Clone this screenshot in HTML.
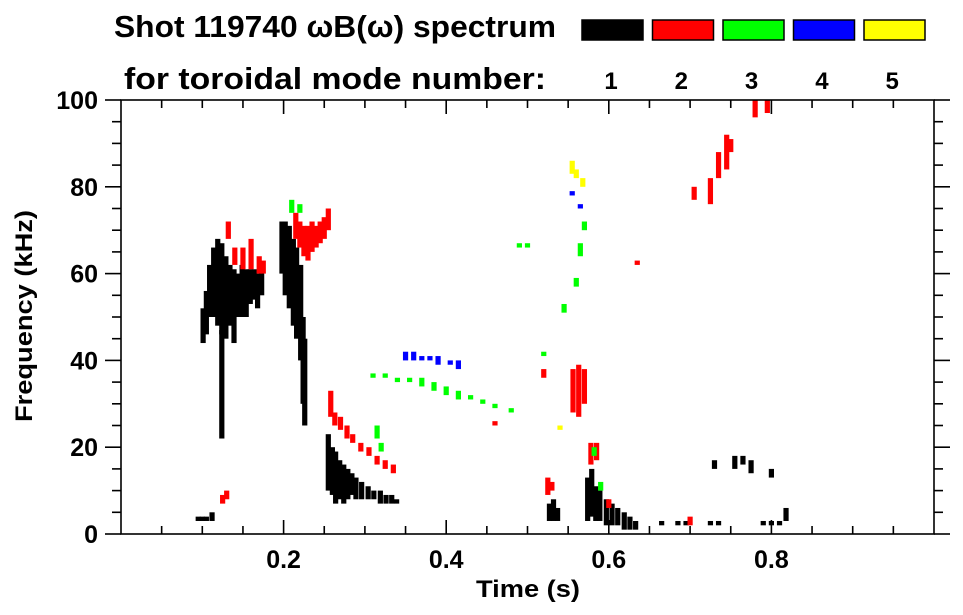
<!DOCTYPE html>
<html><head><meta charset="utf-8"><style>
body{margin:0;background:#fff}
svg{display:block;font-family:"Liberation Sans Narrow","Liberation Sans",sans-serif;font-weight:bold}
</style></head><body>
<svg id="chart" width="963" height="615" viewBox="0 0 963 615" xmlns="http://www.w3.org/2000/svg">
<g>
<text x="114" y="37" font-size="31" textLength="442" lengthAdjust="spacingAndGlyphs">Shot 119740 ωB(ω) spectrum</text>
<text x="124" y="89" font-size="31" textLength="422" lengthAdjust="spacingAndGlyphs">for toroidal mode number:</text>
</g>
<g id="legend"></g>
<g id="marks"></g>
<g id="axes" stroke="#000" stroke-width="1.6" fill="none"></g>
<g id="labels"></g>
<text x="528" y="597" font-size="24" text-anchor="middle" textLength="104" lengthAdjust="spacingAndGlyphs">Time (s)</text>
<text transform="translate(32,316) rotate(-90)" font-size="24" text-anchor="middle" textLength="212" lengthAdjust="spacingAndGlyphs">Frequency (kHz)</text>
</svg>
<script>
const modeNames=["1","2","3","4","5"];
const modeColors=["#000000","#ff0000","#00ff00","#0000ff","#ffff00"];
const xTicks=[0.2,0.4,0.6,0.8];
const yTicks=[0,20,40,60,80,100];
// streaks: [time s, fLow kHz, fHigh kHz]
const mode1=[[0.095,3,4],[0.1,3,4],[0.105,3,4],[0.112,3,5],[0.101,44,52],[0.105,46,56],[0.109,50,62],[0.114,50,66],[0.119,48,68],[0.124,46,67],[0.129,45,64],[0.134,48,62],[0.139,44,61],[0.144,50,60],[0.149,50,62],[0.154,50,61],[0.159,53,61],[0.164,54,61],[0.168,52,60],[0.173,55,61],[0.124,22,47],
[0.198,60,72],[0.202,55,72],[0.207,52,71],[0.212,48,68],[0.216,45,66],[0.221,40,62],[0.224,30,50],[0.226,25,45],
[0.255,10,23],[0.26,9,20],[0.264,7,19],[0.269,8,17],[0.274,7,16],[0.279,8,15],[0.284,9,14],[0.289,8,13],[0.296,8,12],[0.304,8,11],[0.311,8,10],[0.319,7,10],[0.326,7,9],[0.333,7,9],[0.339,7,8],
[0.527,3,7],[0.532,3,8],[0.537,3,6],[0.574,3,13],[0.579,4,15],[0.584,3,11],[0.589,3,10],[0.597,2,8],[0.604,2,7],[0.611,2,6],[0.619,1,5],[0.626,1,4],[0.633,1,3],
[0.665,2,3],[0.685,2,3],[0.695,2,3],[0.725,2,3],[0.735,2,3],[0.79,2,3],[0.8,2,3],[0.81,2,3],[0.818,3,6],
[0.73,15,17],[0.755,15,18],[0.765,16,18],[0.775,14,17],[0.8,13,15]];
const mode2=[[0.132,68,72],[0.14,62,66],[0.15,61,66],[0.16,61,68],[0.17,60,64],[0.175,60,63],
[0.215,68,74],[0.22,66,72],[0.225,64,71],[0.23,63,71],[0.235,65,72],[0.24,66,71],[0.245,67,72],[0.25,68,73],[0.255,70,75],
[0.258,27,33],[0.263,25,28],[0.27,24,27],[0.278,22,25],[0.285,21,23],[0.295,19,21],[0.305,18,20],[0.315,16,18],[0.325,15,17],[0.335,14,16],
[0.125,7,9],[0.13,8,10],[0.525,9,13],[0.53,10,12],[0.52,36,38],[0.556,28,38],[0.563,27,39],[0.57,30,38],[0.578,16,21],[0.585,17,21],[0.6,6,8],[0.7,2,4],
[0.705,77,80],[0.725,76,82],[0.735,82,88],[0.745,84,92],[0.75,88,91],[0.78,96,100],[0.795,97,100],[0.635,62,63],[0.46,25,26]];
const mode3=[[0.21,74,77],[0.22,74,76],[0.315,22,25],[0.32,19,21],
[0.31,36,37],[0.325,36,37],[0.34,35,36],[0.355,35,36],[0.37,34,36],[0.385,33,35],[0.4,32,34],[0.415,31,33],[0.43,31,32],[0.445,30,31],[0.46,29,30],[0.48,28,29],
[0.49,66,67],[0.5,66,67],[0.52,41,42],[0.545,51,53],[0.56,57,59],[0.565,64,67],[0.57,70,72],[0.582,18,20],[0.59,10,12]];
const mode4=[[0.35,40,42],[0.36,40,42],[0.37,40,41],[0.38,40,41],[0.39,39,41],[0.405,39,40],[0.415,38,40],[0.555,78,79],[0.565,75,76]];
const mode5=[[0.555,83,86],[0.56,82,84],[0.568,80,82],[0.54,24,25]];
const modes=[mode1,mode2,mode3,mode4,mode5];

const X0=121,X1=934,Y0=534,Y1=100;
const xs=t=>X0+t*(X1-X0);
const ys=f=>Y0-f/100*(Y0-Y1);
const NS="http://www.w3.org/2000/svg";
function mk(tag,attrs,parent){const e=document.createElementNS(NS,tag);for(const k in attrs)e.setAttribute(k,attrs[k]);parent.appendChild(e);return e;}

const leg=document.getElementById('legend');
modeNames.forEach((n,i)=>{
  const r=mk('rect',{x:582+i*70.5,y:20,width:61,height:20,fill:modeColors[i],stroke:'#000','stroke-width':1.5},leg);
  
  
  const t=mk('text',{x:611+i*70.3,y:89,'font-size':24,'text-anchor':'middle'},leg);
  t.textContent=n;
  
  
});

const mg=document.getElementById('marks');
modes.forEach((m,i)=>{
  m.forEach(s=>{
    const r=mk('rect',{x:xs(s[0])-2.6,y:ys(s[2]),width:5.2,height:Math.max(1.5,ys(s[1])-ys(s[2])),fill:modeColors[i]},mg);
    
    
  });
});

const ax=document.getElementById('axes');
mk('rect',{x:X0,y:Y1,width:X1-X0,height:Y0-Y1},ax);
for(let k=1;k<20;k++){const t=k*0.05,x=xs(t),L=(k%4==0)?14:8;
  mk('line',{x1:x,y1:Y0,x2:x,y2:Y0-L},ax);mk('line',{x1:x,y1:Y1,x2:x,y2:Y1+L},ax);}
for(let k=0;k<=20;k++){const y=ys(k*5),L=(k%4==0)?16:9;
  mk('line',{x1:X0,y1:y,x2:X0-L,y2:y},ax);mk('line',{x1:X1,y1:y,x2:X1+L,y2:y},ax);}
const lb=document.getElementById('labels');
xTicks.forEach(v=>{const t=mk('text',{x:xs(v),y:568,'font-size':25,'text-anchor':'middle'},lb);t.textContent=v.toFixed(1);
  
  });
yTicks.forEach(v=>{const t=mk('text',{x:98,y:ys(v)+9,'font-size':25,'text-anchor':'end'},lb);t.textContent=v;
  
  });
</script>
</body></html>
